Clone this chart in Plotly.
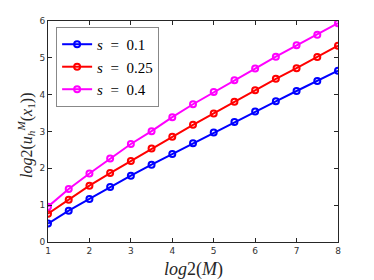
import plotly.graph_objects as go

x_vals = [1, 1.5, 2, 2.5, 3, 3.5, 4, 4.5, 5, 5.5, 6, 6.5, 7, 7.5, 8]
s01 = [0.50, 0.85, 1.17, 1.49, 1.80, 2.10, 2.39, 2.68, 2.97, 3.26, 3.54, 3.82, 4.10, 4.37, 4.65]
s025 = [0.77, 1.15, 1.53, 1.87, 2.20, 2.54, 2.86, 3.18, 3.49, 3.81, 4.12, 4.43, 4.72, 5.02, 5.33]
s04 = [0.96, 1.44, 1.86, 2.27, 2.66, 3.01, 3.39, 3.74, 4.07, 4.39, 4.71, 5.03, 5.34, 5.63, 5.94]
names = ["<i>s</i>&nbsp; = &nbsp;0.1", "<i>s</i>&nbsp; = &nbsp;0.25", "<i>s</i>&nbsp; = &nbsp;0.4"]
colors = ["#0000FF", "#FF0000", "#FF00FF"]
x_ticks = [1, 2, 3, 4, 5, 6, 7, 8]
y_ticks = [0, 1, 2, 3, 4, 5, 6]
x_title = "<i>log</i>2(<i>M</i>)"
y_title = "<i>log</i>2(<i>u</i><sub><i>h</i></sub><sup><i>M</i></sup>(<i>x</i><sub>1</sub>))"

fig = go.Figure()
for ys, nm, c in zip([s01, s025, s04], names, colors):
    fig.add_trace(go.Scatter(
        x=x_vals, y=ys, name=nm, mode="lines+markers",
        line=dict(color=c, width=2),
        marker=dict(symbol="circle-open", size=6, color=c, line=dict(width=2, color=c)),
    ))

axis_common = dict(
    showgrid=False, zeroline=False, showline=True, linecolor="#262626", linewidth=1,
    mirror="ticks", ticks="inside", ticklen=4, tickcolor="#262626", automargin=False,
    tickfont=dict(family="DejaVu Sans", size=9, color="#333333"),
)
fig.update_xaxes(range=[1, 8], tickvals=x_ticks, **axis_common)
fig.update_yaxes(range=[0, 6], tickvals=y_ticks, **axis_common)

fig.add_annotation(text=x_title, xref="paper", yref="paper", x=0.5, y=0,
                   xanchor="center", yanchor="middle", yshift=-27,
                   showarrow=False, font=dict(family="Liberation Serif", size=18, color="#262626"))
fig.add_annotation(text=y_title, xref="paper", yref="paper", x=0, y=0.48,
                   xanchor="center", yanchor="middle", xshift=-22, textangle=-90,
                   showarrow=False, font=dict(family="Liberation Serif", size=16, color="#262626"))

fig.update_layout(
    width=366, height=272,
    margin=dict(l=40, r=36, t=13, b=38),
    paper_bgcolor="white", plot_bgcolor="white",
    legend=dict(x=0.028, y=0.973, xanchor="left", yanchor="top",
                bgcolor="white", bordercolor="#888888", borderwidth=1,
                font=dict(family="Liberation Serif", size=15, color="black"),
                itemwidth=30, tracegroupgap=0),
    showlegend=True,
)
fig.write_html("out.html")
